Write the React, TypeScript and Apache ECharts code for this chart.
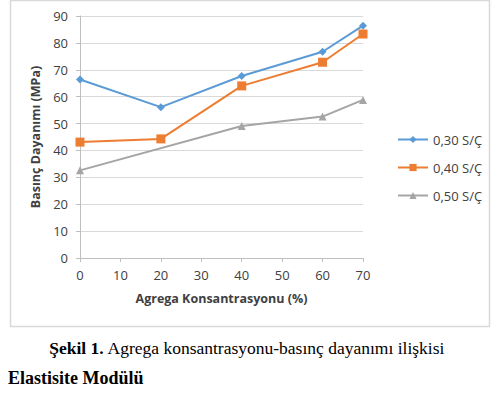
import React, { useEffect, useRef } from "react";
import * as echarts from "echarts";

const xValues = [0, 20, 40, 60, 70];
const s030 = [66.4, 56.1, 67.7, 76.7, 86.4];
const s040 = [43.1, 44.3, 64.0, 72.8, 83.3];
const x050 = [0, 40, 60, 70];
const s050 = [32.6, 49.1, 52.6, 58.8];
const seriesNames = ["0,30 S/Ç", "0,40 S/Ç", "0,50 S/Ç"];
const xTitle = "Agrega Konsantrasyonu (%)";
const yTitle = "Basınç Dayanımı (MPa)";
const captionBold = "Şekil 1.";
const captionText = " Agrega konsantrasyonu-basınç dayanımı ilişkisi";
const heading = "Elastisite Modülü";

export default function App() {
  const ref = useRef<HTMLDivElement>(null);
  useEffect(() => {
    const chart = echarts.init(ref.current!, null, { renderer: "svg" });
    const font = "'Open Sans', sans-serif";
    const mk = (xs: number[], ys: number[]) => xs.map((x, i) => [x, ys[i]]);
    chart.setOption({
      animation: false,
      textStyle: { fontFamily: font },
      grid: { left: 80, right: 133, top: 16, bottom: 143 },
      xAxis: {
        type: "value", min: 0, max: 70, interval: 10,
        name: xTitle, nameLocation: "middle", nameGap: 34,
        nameTextStyle: { fontWeight: "bold", fontSize: 12.5, color: "#404040", fontFamily: font },
        axisLine: { lineStyle: { color: "#bfbfbf" } },
        axisTick: { show: true, length: 4, lineStyle: { color: "#bfbfbf" } },
        axisLabel: { color: "#404040", fontSize: 13, margin: 10, fontFamily: font },
        splitLine: { show: false },
      },
      yAxis: {
        type: "value", min: 0, max: 90, interval: 10,
        name: yTitle, nameLocation: "middle", nameGap: 37, nameRotate: 90,
        nameTextStyle: { fontWeight: "bold", fontSize: 12.5, color: "#404040", fontFamily: font },
        axisLine: { show: true, lineStyle: { color: "#bfbfbf" } },
        axisTick: { show: true, length: 4, lineStyle: { color: "#bfbfbf" } },
        axisLabel: { color: "#404040", fontSize: 13, margin: 12, fontFamily: font },
        splitLine: { lineStyle: { color: "#d9d9d9" } },
      },
      legend: {
        orient: "vertical", left: 392, top: 128, itemGap: 15,
        itemWidth: 30, itemHeight: 9,
        textStyle: { color: "#404040", fontSize: 13, fontFamily: font },
        data: seriesNames,
      },
      series: [
        { name: seriesNames[0], type: "line", data: mk(xValues, s030), symbol: "diamond", symbolSize: 8,
          color: "#5b9bd5", lineStyle: { width: 2 } },
        { name: seriesNames[1], type: "line", data: mk(xValues, s040), symbol: "rect", symbolSize: 9,
          color: "#ed7d31", lineStyle: { width: 2 } },
        { name: seriesNames[2], type: "line", data: mk(x050, s050), symbol: "triangle", symbolSize: 8,
          color: "#a5a5a5", lineStyle: { width: 2 } },
      ],
      graphic: [
        { type: "rect", shape: { x: 10.5, y: 0.5, width: 479, height: 326 }, z: -10,
          style: { fill: "#fff", stroke: "#d9d9d9", lineWidth: 1.5 } },
        { type: "text", x: 247, y: 348, style: {
            text: "{b|" + captionBold + "}{n|" + captionText + "}",
            align: "center", verticalAlign: "middle",
            rich: {
              b: { fontFamily: "'Liberation Serif', serif", fontSize: 17.5, fontWeight: "bold", fill: "#000" },
              n: { fontFamily: "'Liberation Serif', serif", fontSize: 17.5, fill: "#000" },
            } } },
        { type: "text", x: 8, y: 378, style: {
            text: heading, verticalAlign: "middle",
            font: "bold 18px 'Liberation Serif', serif", fill: "#000" } },
      ],
    });
    return () => chart.dispose();
  }, []);
  return <div ref={ref} style={{ position: "absolute", left: 0, top: 0, width: 496, height: 401, background: "#fff" }} />;
}
